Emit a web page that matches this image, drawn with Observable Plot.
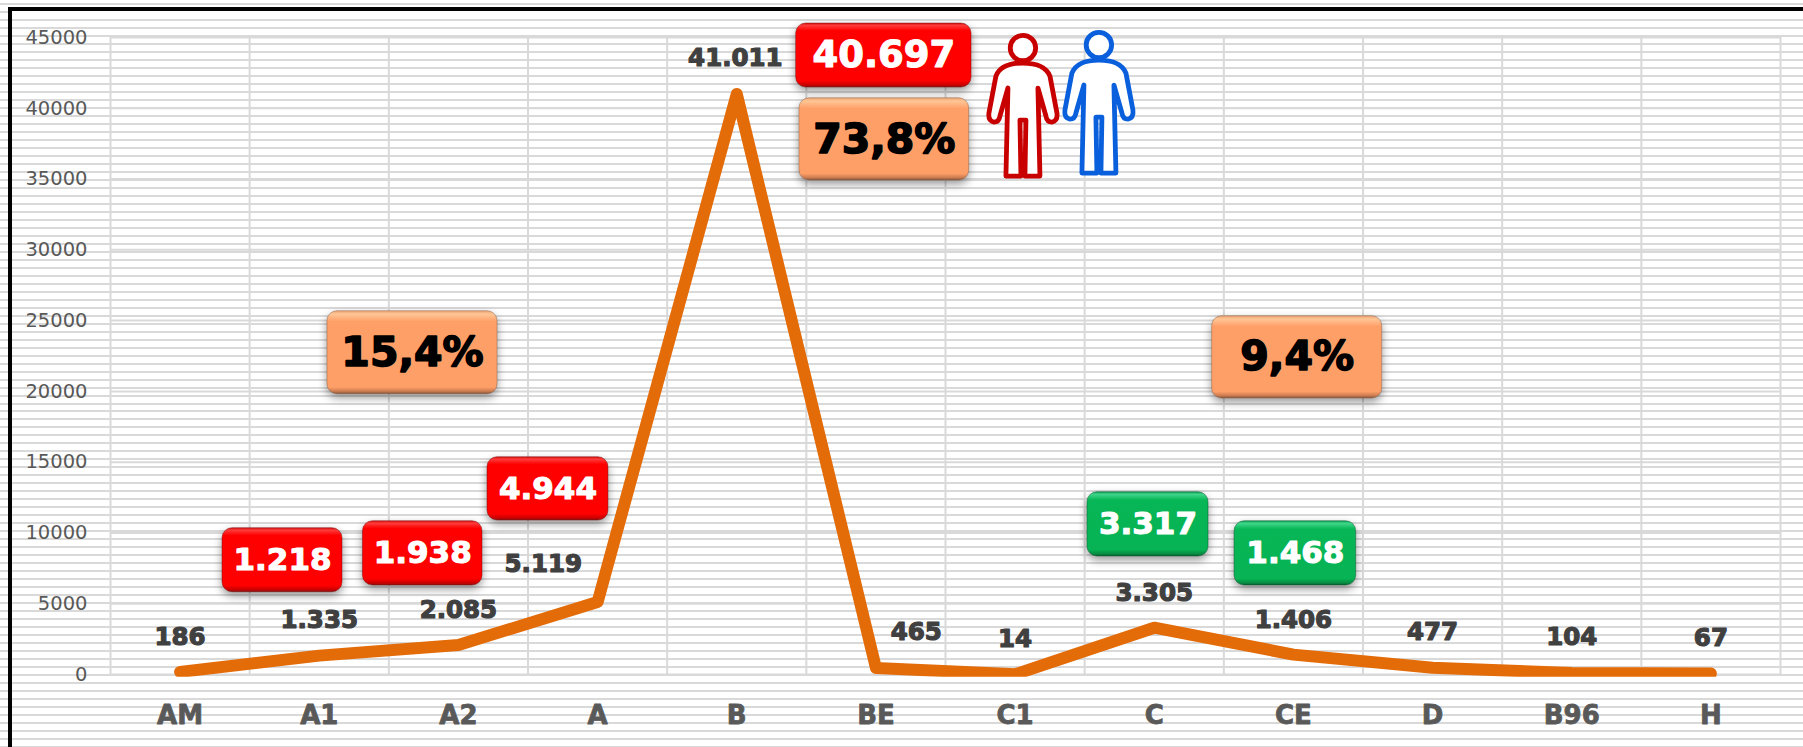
<!DOCTYPE html>
<html>
<head>
<meta charset="utf-8">
<script src="https://cdn.jsdelivr.net/npm/d3@7"></script>
<script src="https://cdn.jsdelivr.net/npm/@observablehq/plot@0.6"></script>
<style>
html,body{margin:0;padding:0;background:#fff;width:1803px;height:747px;overflow:hidden}
#wrap{position:relative;width:1803px;height:747px}
#wrap svg{display:block}
.frameTop{position:absolute;left:8px;right:0;top:7px;height:4px;background:#000;box-shadow:0 3px 0 #fff}
.frameLeft{position:absolute;left:8px;top:7px;bottom:0;width:4px;background:#000}
</style>
</head>
<body>
<div id="wrap"></div>
<script>
// Chart data
const categories = ["AM","A1","A2","A","B","BE","C1","C","CE","D","B96","H"];
const values = [186,1335,2085,5119,41011,465,14,3305,1406,477,104,67];
const valueLabels = ["186","1.335","2.085","5.119","41.011","465","14","3.305","1.406","477","104","67"];
const yTicks = [0,5000,10000,15000,20000,25000,30000,35000,40000,45000];

// Where the value labels sit, in axis units
const labelX = [0,1,2,2.61,3.99,5.29,6,7,8,9,10,11];
const labelY = [2635,3815,4521,7770,43514,2967,2472,5743,3850,2967,2614,2543];

// Callout boxes, in axis units
const redBoxes = [
  {text:"40.697",x1:4.427,x2:5.687,y1:41466,y2:45987,size:37},
  {text:"1.218",x1:0.305,x2:1.167,y1:5814,y2:10335,size:31},
  {text:"1.938",x1:1.314,x2:2.173,y1:6287,y2:10829,size:31},
  {text:"4.944",x1:2.209,x2:3.078,y1:10879,y2:15350,size:31}
];
const greenBoxes = [
  {text:"3.317",x1:6.52,x2:7.39,y1:8336,y2:12878,size:31},
  {text:"1.468",x1:7.577,x2:8.451,y1:6287,y2:10829,size:31}
];
const orangeBoxes = [
  {text:"73,8%",x1:4.451,x2:5.67,y1:34896,y2:40710,size:41},
  {text:"15,4%",x1:1.059,x2:2.281,y1:19800,y2:25664,size:41},
  {text:"9,4%",x1:7.416,x2:8.638,y1:19497,y2:25310,size:41}
];
const people = [
  {x:6.06,y:44221,color:"#c80000"},
  {x:6.606,y:44433,color:"#0a5fdc"}
];

const table = categories.map((c,i)=>({i,c,v:values[i],label:valueLabels[i],lx:labelX[i],ly:labelY[i]}));
const gridX = d3.range(13).map(i=>i-0.5);
const BOLD = "'DejaVu Sans'";

function boxMarks(rows, fillId, edge, textFill, textStroke, textWidth){
  const cx = d=>(d.x1+d.x2)/2, cy = d=>(d.y1+d.y2)/2;
  return [
    Plot.rect(rows,{x1:"x1",x2:"x2",y1:"y1",y2:"y2",rx:10,fill:`url(#${fillId})`,
      stroke:edge,strokeOpacity:0.45,strokeWidth:1,
      imageFilter:"drop-shadow(0px 4px 4px rgba(0,0,0,0.4))"}),
    Plot.text(rows,{x:cx,y:cy,text:"text",fontSize:"size",fontFamily:BOLD,fontWeight:"bold",
      fill:textFill,stroke:textStroke,strokeWidth:textWidth,textAnchor:"middle"})
  ];
}

const personBody = "M0,15 C-12,15 -23,18 -27,28 L-34,65 Q-35,73 -29,74 Q-24,74 -23,68 L-15,40 L-17,128 L-2,128 L-3,72 L3,72 L2,128 L17,128 L15,40 L23,68 Q24,74 29,74 Q35,73 34,65 L27,28 C23,18 12,15 0,15 Z";
function personMark(index, scales){
  const g = d3.create("svg:g");
  for (const p of people){
    const n = g.append("g").attr("transform",`translate(${scales.x(p.x)},${scales.y(p.y)})`)
      .attr("fill","#fff").attr("stroke",p.color).attr("stroke-width",4.8).attr("stroke-linejoin","round");
    n.append("path").attr("d",personBody);
    n.append("circle").attr("r",12.7);
  }
  return g.node();
}

const stripes = "repeating-linear-gradient(to bottom,#fff 0px,#fff 3px,#d9d9d9 3px,#d9d9d9 5px,#fff 5px,#fff 7.99px)";

const chart = Plot.plot({
  width:1803, height:747,
  marginLeft:110, marginRight:23, marginTop:37, marginBottom:70.3,
  style:{background:stripes,maxWidth:"none",display:"block"},
  x:{domain:[-0.5,11.5],axis:null},
  y:{domain:[-190,45000],axis:null},
  marks:[
    Plot.ruleY(yTicks,{x1:-0.5,x2:11.5,stroke:"#d9d9d9",strokeWidth:2,strokeOpacity:1}),
    Plot.ruleX(gridX,{y1:0,y2:45000,stroke:"#d9d9d9",strokeWidth:2}),
    Plot.axisY({ticks:yTicks,tickSize:0,tickPadding:23,tickFormat:d=>String(d),fontSize:19.5,
      fontFamily:"'DejaVu Sans'",color:"#595959"}),
    Plot.axisX({ticks:d3.range(12),tickSize:0,tickPadding:28,tickFormat:i=>categories[i],fontSize:26,
      fontFamily:BOLD,fontWeight:"bold",color:"#595959",textStroke:"#595959",textStrokeWidth:0.8}),
    Plot.line(table,{x:"i",y:"v",stroke:"#e36c09",strokeWidth:12,strokeLinejoin:"round",strokeLinecap:"round",clip:true}),
    Plot.text(table,{x:"lx",y:"ly",text:"label",fontSize:24.5,fontFamily:BOLD,fontWeight:"bold",
      fill:"#404040",stroke:"#404040",strokeWidth:1.2,textAnchor:"middle"}),
    ...boxMarks(redBoxes,"gradRed","#7a0000","#fff","#fff",1.1),
    ...boxMarks(greenBoxes,"gradGreen","#04532a","#fff","#fff",1.1),
    ...boxMarks(orangeBoxes,"gradOrange","#8a5a40","#000","#000",1.6),
    personMark
  ]
});

const defs = d3.select(chart).append("defs");
function grad(id, stops){
  const g = defs.append("linearGradient").attr("id",id).attr("x1",0).attr("x2",0).attr("y1",0).attr("y2",1);
  for (const [o,c] of stops) g.append("stop").attr("offset",o).attr("stop-color",c);
}
grad("gradRed",[[0,"#d01515"],[0.04,"#ff3a3a"],[0.12,"#ff0000"],[0.9,"#ff0000"],[0.97,"#c80000"],[1,"#861818"]]);
grad("gradGreen",[[0,"#0a9a50"],[0.04,"#3fd68a"],[0.13,"#07b656"],[0.9,"#07b354"],[0.97,"#068a40"],[1,"#0a5a30"]]);
grad("gradOrange",[[0,"#e8a070"],[0.04,"#ffc696"],[0.13,"#ff9f68"],[0.92,"#ff9f68"],[0.97,"#cc7c50"],[1,"#85543c"]]);

const wrap = document.getElementById("wrap");
wrap.appendChild(chart);
for (const c of ["frameTop","frameLeft"]){
  const d = document.createElement("div"); d.className = c; wrap.appendChild(d);
}
</script>
</body>
</html>
